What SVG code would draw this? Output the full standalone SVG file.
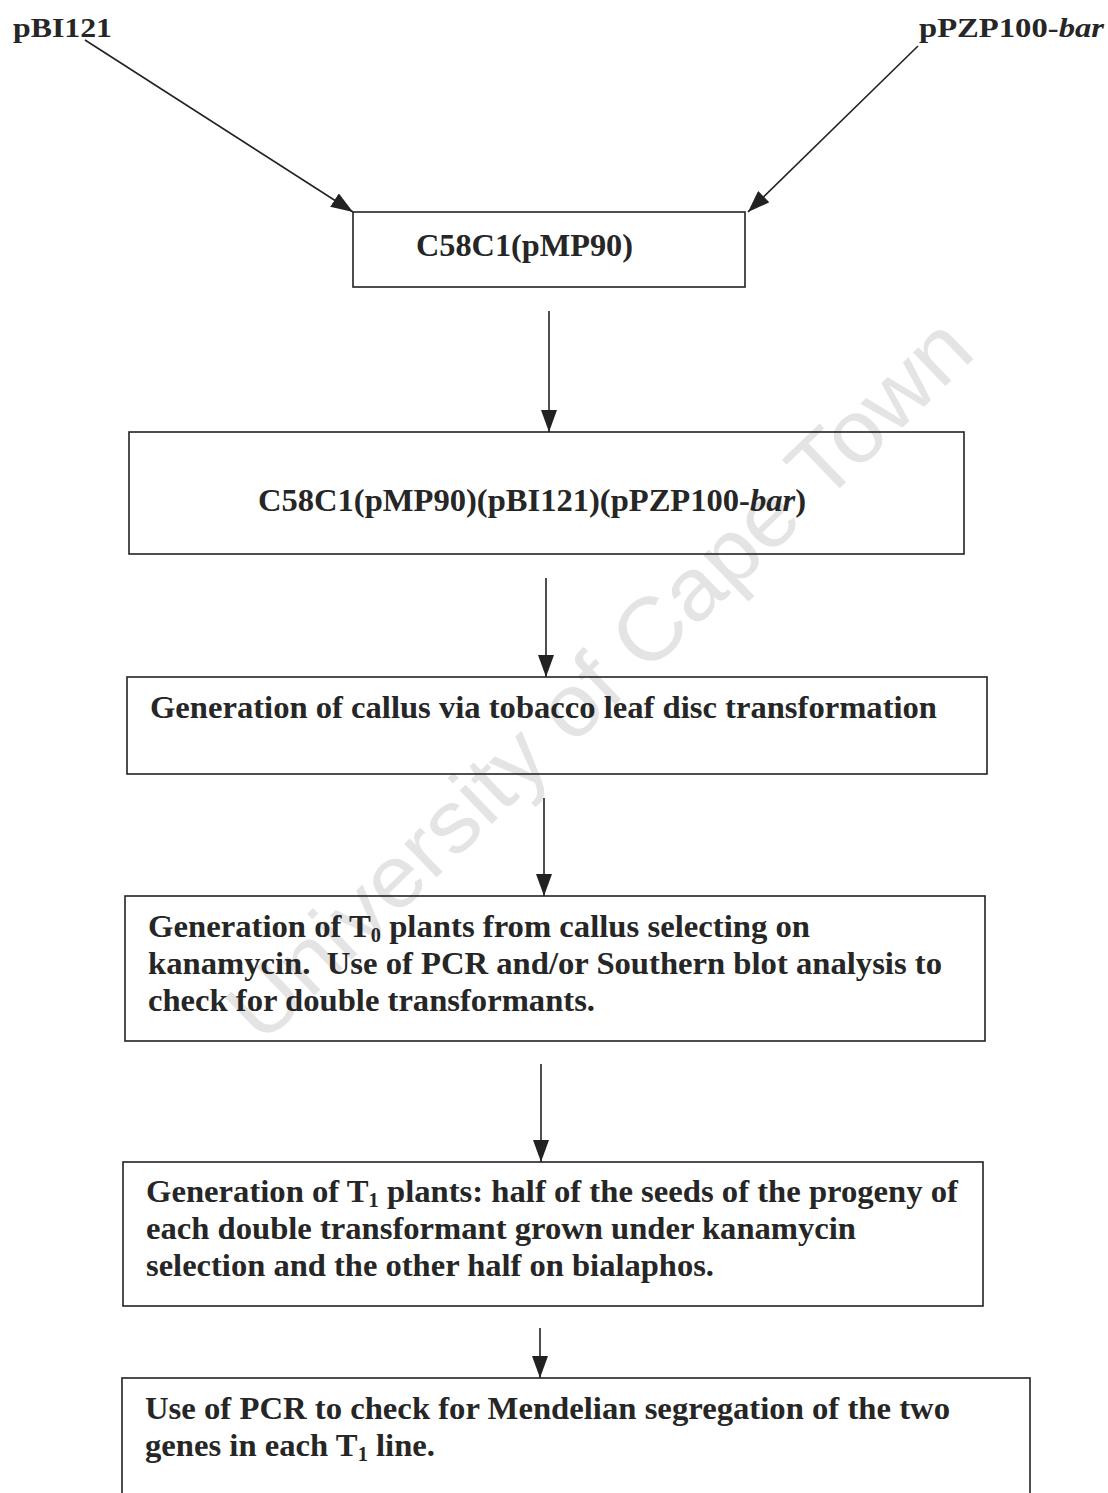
<svg xmlns="http://www.w3.org/2000/svg" width="1108" height="1493" viewBox="0 0 1108 1493">
<style>
.box{fill:none;stroke:#222;stroke-width:1.6}
.t{font-family:"Liberation Serif","Times New Roman",serif;font-weight:bold;font-size:32px;fill:#262626}
.lbl{font-family:"Liberation Serif","Times New Roman",serif;font-weight:bold;font-size:27px;fill:#262626}
.con{stroke:#222;stroke-width:1.6;fill:none;marker-end:url(#ah)}
.wm{font-family:"Liberation Sans",Arial,sans-serif;font-size:88px;fill:#e4e4e4}
.sub{font-size:20px}
</style>
<defs>
<marker id="ah" markerUnits="userSpaceOnUse" markerWidth="22" markerHeight="16" refX="22" refY="8" orient="auto" viewBox="0 0 22 16">
<path d="M0,0 L22,8 L0,16 z" fill="#222"/>
</marker>
</defs>
<rect width="1108" height="1493" fill="#fff"/>
<text class="wm" x="0" y="0" transform="translate(262,1046) rotate(-44)" textLength="995" lengthAdjust="spacingAndGlyphs">University of Cape Town</text>

<g id="connectors">
<line class="con" x1="85" y1="40" x2="353" y2="212"/>
<line class="con" x1="918" y1="46" x2="748" y2="212"/>
<line class="con" x1="549" y1="311" x2="549" y2="432"/>
<line class="con" x1="546" y1="578" x2="546" y2="677"/>
<line class="con" x1="544" y1="798" x2="544" y2="896"/>
<line class="con" x1="541" y1="1064" x2="541" y2="1162"/>
<line class="con" x1="540" y1="1328" x2="540" y2="1378"/>
</g>

<g id="pBI121">
<text class="lbl" x="13" y="37" textLength="99" lengthAdjust="spacingAndGlyphs">pBI121</text>
</g>
<g id="pPZP100-bar">
<text class="lbl" x="919" y="37" textLength="185" lengthAdjust="spacingAndGlyphs">pPZP100-<tspan font-style="italic">bar</tspan></text>
</g>

<g id="node1">
<rect class="box" x="353" y="212" width="392" height="75"/>
<text class="t" x="416" y="256" font-size="34" textLength="217" lengthAdjust="spacingAndGlyphs">C58C1(pMP90)</text>
</g>

<g id="node2">
<rect class="box" x="129" y="432" width="835" height="122"/>
<text class="t" x="258" y="511" textLength="548" lengthAdjust="spacingAndGlyphs">C58C1(pMP90)(pBI121)(pPZP100-<tspan font-style="italic">bar</tspan>)</text>
</g>

<g id="node3">
<rect class="box" x="127" y="677" width="860" height="97"/>
<text class="t" x="150" y="718" textLength="787" lengthAdjust="spacingAndGlyphs">Generation of callus via tobacco leaf disc transformation</text>
</g>

<g id="node4">
<rect class="box" x="125" y="896" width="860" height="145"/>
<text class="t" x="148" y="937" textLength="662" lengthAdjust="spacingAndGlyphs">Generation of T<tspan class="sub" dy="5">0</tspan><tspan dy="-5"> plants from callus selecting on</tspan></text>
<text class="t" x="148" y="974" textLength="794" lengthAdjust="spacingAndGlyphs">kanamycin.&#160; Use of PCR and/or Southern blot analysis to</text>
<text class="t" x="148" y="1011" textLength="447" lengthAdjust="spacingAndGlyphs">check for double transformants.</text>
</g>

<g id="node5">
<rect class="box" x="123" y="1162" width="860" height="144"/>
<text class="t" x="146" y="1202" textLength="812" lengthAdjust="spacingAndGlyphs">Generation of T<tspan class="sub" dy="5">1</tspan><tspan dy="-5"> plants: half of the seeds of the progeny of</tspan></text>
<text class="t" x="146" y="1239" textLength="710" lengthAdjust="spacingAndGlyphs">each double transformant grown under kanamycin</text>
<text class="t" x="146" y="1276" textLength="568" lengthAdjust="spacingAndGlyphs">selection and the other half on bialaphos.</text>
</g>

<g id="node6">
<rect class="box" x="122" y="1378" width="908" height="140"/>
<text class="t" x="145" y="1419" textLength="805" lengthAdjust="spacingAndGlyphs">Use of PCR to check for Mendelian segregation of the two</text>
<text class="t" x="145" y="1456" textLength="290" lengthAdjust="spacingAndGlyphs">genes in each T<tspan class="sub" dy="5">1</tspan><tspan dy="-5"> line.</tspan></text>
</g>
</svg>
